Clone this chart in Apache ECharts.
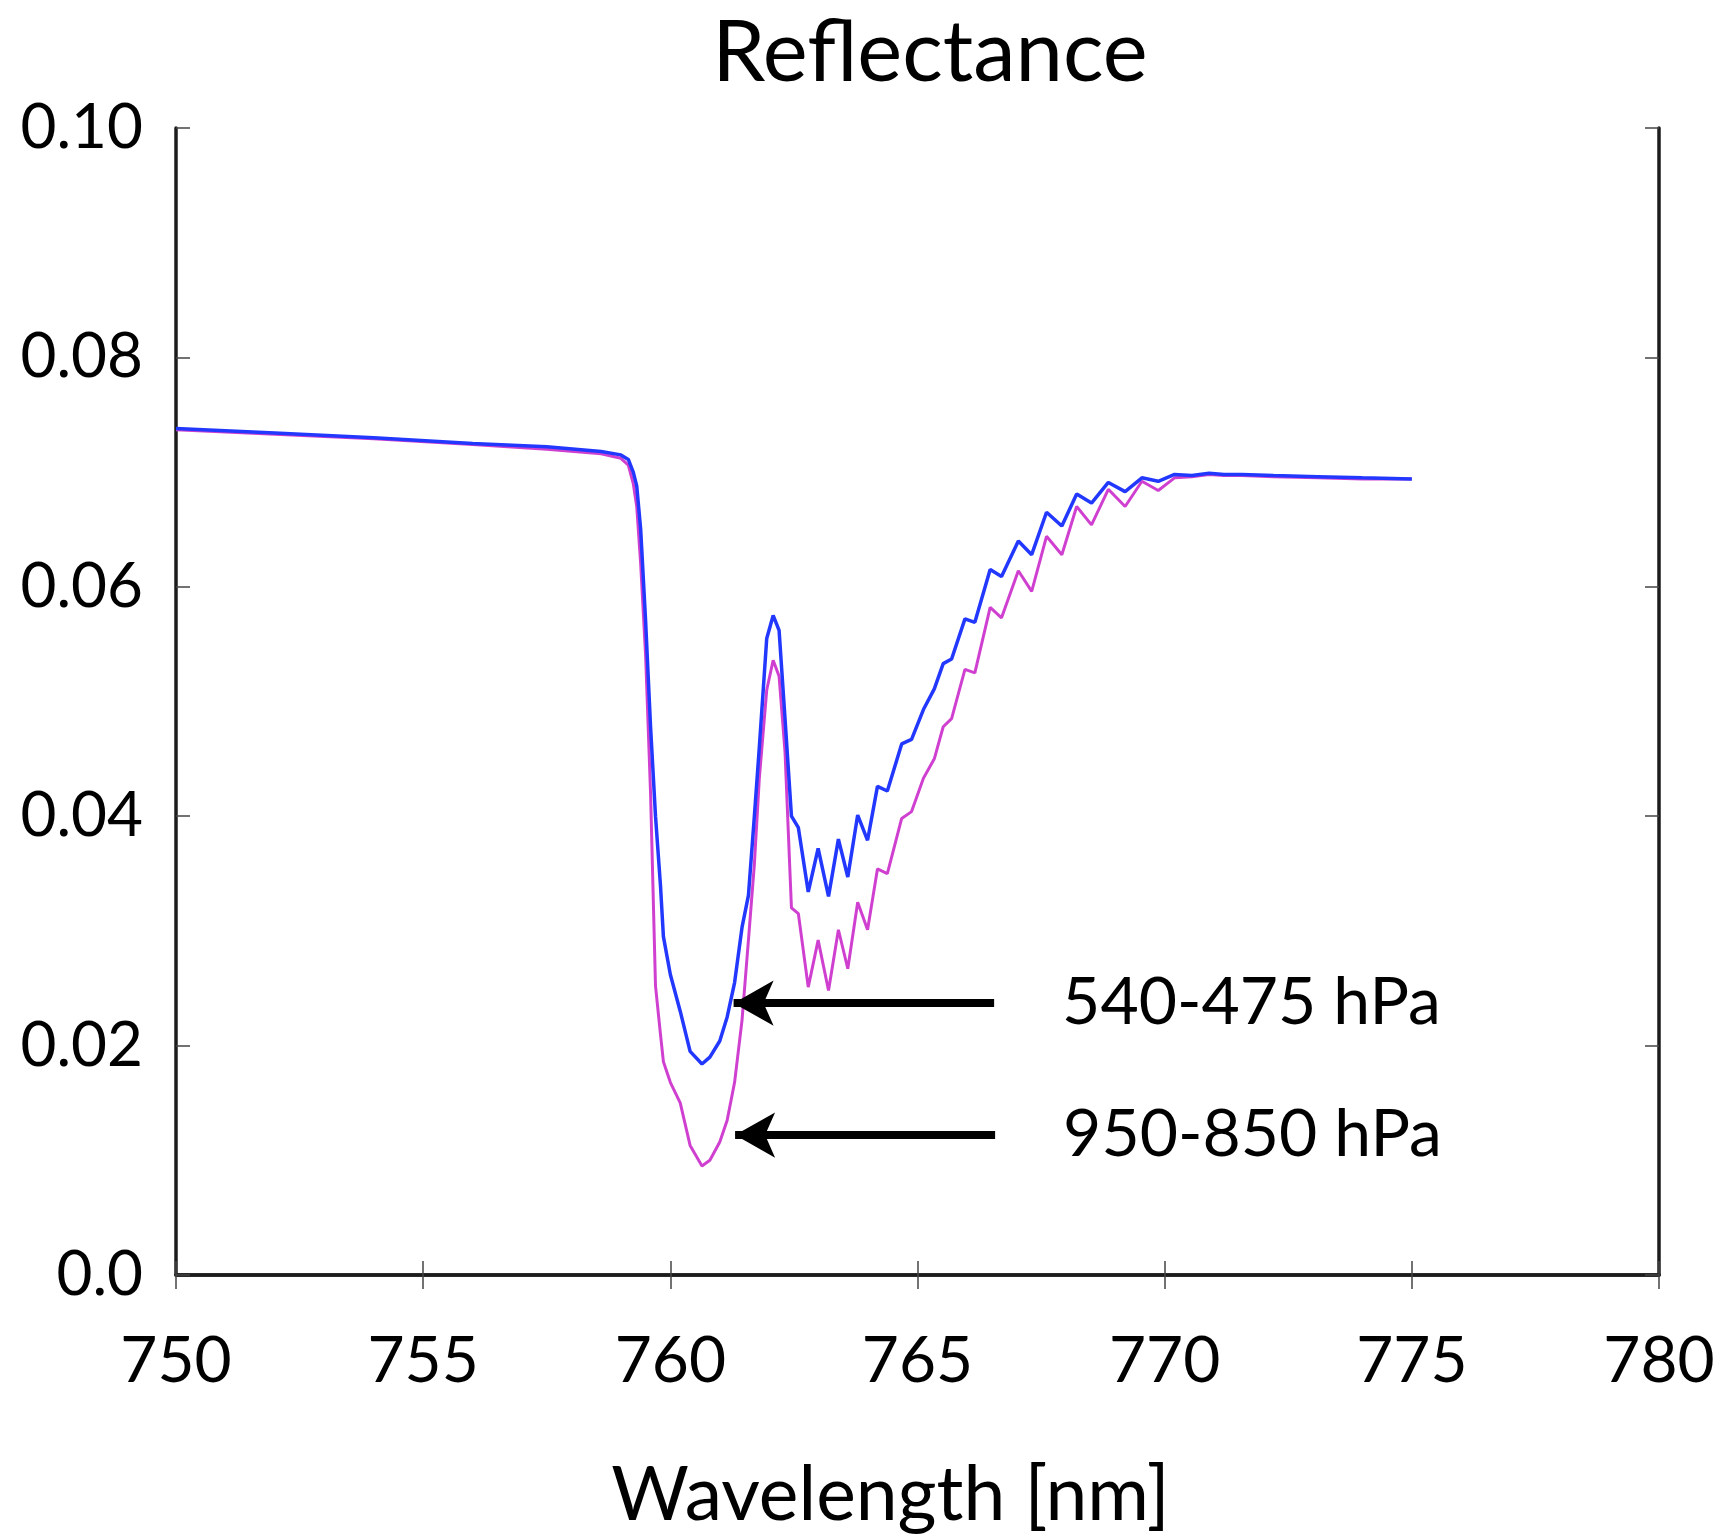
<!DOCTYPE html>
<html>
<head>
<meta charset="utf-8">
<script src="https://cdn.jsdelivr.net/npm/echarts@6/dist/echarts.min.js"></script>
<style>
  html, body { margin: 0; padding: 0; background: #ffffff; }
  #chart { width: 1728px; height: 1538px; }
</style>
</head>
<body>
<div id="chart"></div>
<script>
// Wavelength grid [nm] shared by both spectra
const wavelengths = [
  750, 752, 754, 756, 757.5, 758.6, 759.0, 759.15, 759.25, 759.32,
  759.4, 759.5, 759.6, 759.7, 759.8, 759.86, 760.0, 760.2, 760.4, 760.64,
  760.8, 761.0, 761.15, 761.3, 761.45, 761.58, 761.7, 761.8, 761.95, 762.08,
  762.2, 762.32, 762.45, 762.59, 762.79, 762.99, 763.2, 763.4, 763.59, 763.79,
  763.99, 764.19, 764.39, 764.68, 764.88, 765.12, 765.34, 765.52, 765.69, 765.96,
  766.16, 766.47, 766.70, 767.04, 767.31, 767.61, 767.92, 768.22, 768.52, 768.86,
  769.20, 769.54, 769.87, 770.2, 770.55, 770.9, 771.2, 771.56, 772.2, 773.1,
  774.0, 775.0
];

// Reflectance for the 540-475 hPa layer (blue)
const reflectanceUpper = [
  0.0738, 0.0734, 0.0730, 0.0725, 0.0722, 0.0718, 0.0715, 0.0711, 0.0700, 0.0688,
  0.0650, 0.0570, 0.0478, 0.0400, 0.0340, 0.0295, 0.0262, 0.0230, 0.0195, 0.0184,
  0.0190, 0.0204, 0.0225, 0.0255, 0.0303, 0.0331, 0.0400, 0.0460, 0.0555, 0.0575,
  0.0562, 0.0485, 0.0400, 0.0390, 0.0334, 0.0372, 0.0330, 0.0380, 0.0347, 0.0401,
  0.0379, 0.0426, 0.0422, 0.0463, 0.0467, 0.0493, 0.0511, 0.0533, 0.0537, 0.0572,
  0.0569, 0.0615, 0.0609, 0.0640, 0.0628, 0.0665, 0.0653, 0.0681, 0.0673, 0.0691,
  0.0683, 0.0695, 0.0692, 0.0698, 0.0697, 0.0699, 0.0698, 0.0698, 0.0697, 0.0696,
  0.0695, 0.0694
];

// Reflectance for the 950-850 hPa layer (magenta)
const reflectanceLower = [
  0.0737, 0.0733, 0.0729, 0.0724, 0.0720, 0.0716, 0.0712, 0.0706, 0.0690, 0.0670,
  0.0620, 0.0540, 0.0420, 0.0252, 0.0210, 0.0186, 0.0168, 0.0150, 0.0113, 0.0095,
  0.0100, 0.0116, 0.0135, 0.0168, 0.0222, 0.0292, 0.0358, 0.0433, 0.0510, 0.0536,
  0.0522, 0.0456, 0.0320, 0.0315, 0.0251, 0.0292, 0.0248, 0.0301, 0.0267, 0.0325,
  0.0301, 0.0354, 0.0350, 0.0398, 0.0404, 0.0433, 0.0450, 0.0478, 0.0485, 0.0528,
  0.0525, 0.0582, 0.0573, 0.0614, 0.0596, 0.0644, 0.0628, 0.0670, 0.0654, 0.0685,
  0.0670, 0.0692, 0.0684, 0.0695, 0.0696, 0.0698, 0.0697, 0.0697, 0.0696, 0.0695,
  0.0694, 0.0694
];

// Annotation arrows: label, reflectance level, tail and tip wavelength
const arrowLabels = ['540-475 hPa', '950-850 hPa'];
const arrowLevels = [0.0237, 0.0122];
const arrowTail = [766.55, 766.57];
const arrowTip = [761.28, 761.31];

const FONT = 'Lato';
const AXIS_COLOR = '#1c1c1c';

const chart = echarts.init(document.getElementById('chart'), null, { renderer: 'canvas' });

const toPairs = (ys) => wavelengths.map((w, i) => [w, ys[i]]);

const arrowData = arrowLabels.map((name, i) => [
  { name: name, coord: [arrowTail[i], arrowLevels[i]] },
  { coord: [arrowTip[i], arrowLevels[i]] }
]);

const frameAxis = {
  axisLine: { show: true, lineStyle: { color: AXIS_COLOR, width: 3.5 } },
  axisTick: { show: true, inside: true, length: 14, lineStyle: { color: '#444', width: 1.5 } },
  splitLine: { show: false }
};

chart.setOption({
  animation: false,
  backgroundColor: '#ffffff',
  title: {
    text: 'Reflectance',
    left: 925,
    top: 6,
    textAlign: 'center',
    textStyle: { fontFamily: FONT, fontSize: 85, fontWeight: 'normal', color: '#000' }
  },
  grid: { left: 176, top: 128, right: 69, bottom: 261, containLabel: false },
  xAxis: [
    Object.assign({
      type: 'value', min: 750, max: 780, interval: 5, position: 'bottom',
      name: 'Wavelength [nm]', nameLocation: 'middle', nameGap: 183,
      nameTextStyle: { fontFamily: FONT, fontSize: 75, color: '#000', padding: [0, 54, 0, 0] },
      axisLabel: { margin: 54, fontFamily: FONT, fontSize: 64, color: '#000' }
    }, frameAxis),
    Object.assign({
      type: 'value', min: 750, max: 780, interval: 5, position: 'top',
      axisLabel: { show: false }
    }, frameAxis)
  ],
  yAxis: [
    Object.assign({
      type: 'value', min: 0, max: 0.1, interval: 0.02, position: 'left',
      axisLabel: {
        margin: 33, fontFamily: FONT, fontSize: 62, color: '#000',
        formatter: (v) => (v === 0 ? '0.0' : v.toFixed(2))
      }
    }, frameAxis),
    Object.assign({
      type: 'value', min: 0, max: 0.1, interval: 0.02, position: 'right',
      axisLabel: { show: false }
    }, frameAxis)
  ],
  series: [
    {
      name: '950-850 hPa',
      type: 'line',
      xAxisIndex: 0, yAxisIndex: 0,
      data: toPairs(reflectanceLower),
      showSymbol: false,
      lineStyle: { color: '#d040d0', width: 3 },
      z: 2
    },
    {
      name: '540-475 hPa',
      type: 'line',
      xAxisIndex: 0, yAxisIndex: 0,
      data: toPairs(reflectanceUpper),
      showSymbol: false,
      lineStyle: { color: '#2338ff', width: 3.5 },
      z: 3,
      markLine: {
        silent: true,
        animation: false,
        symbol: ['none', 'arrow'],
        symbolSize: [34, 40],
        lineStyle: { color: '#000', width: 8, type: 'solid', opacity: 1 },
        label: {
          show: true, position: 'start', distance: 68,
          formatter: (p) => p.name,
          fontFamily: FONT, fontSize: 66, color: '#000'
        },
        emphasis: { disabled: true },
        data: arrowData
      }
    }
  ]
});
</script>
</body>
</html>
